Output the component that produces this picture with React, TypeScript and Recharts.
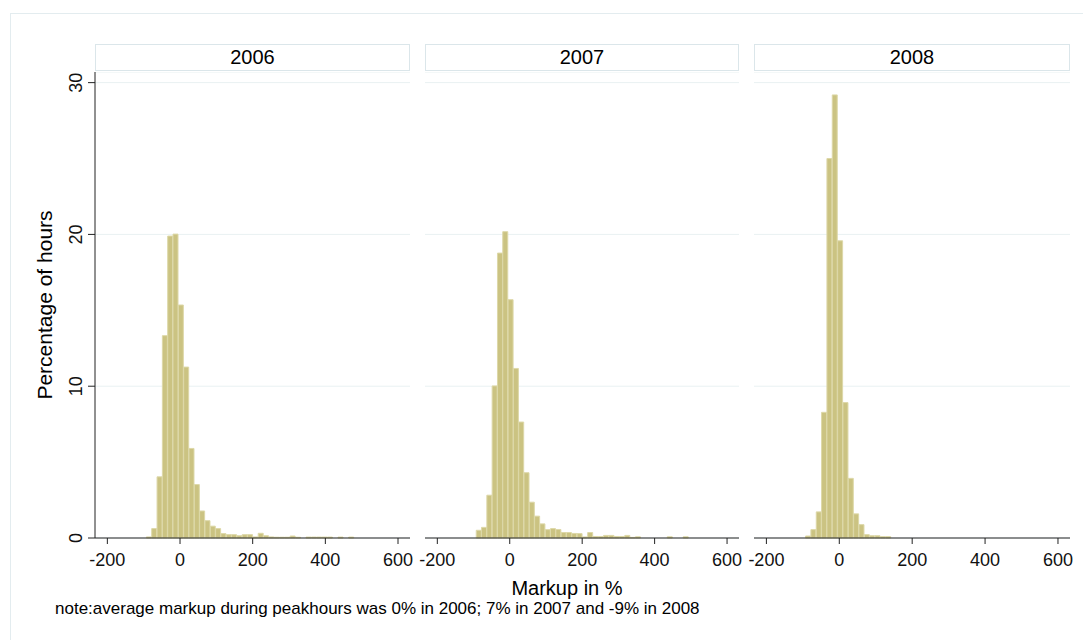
import { ComposedChart, Bar, XAxis, YAxis, CartesianGrid } from 'recharts';

// histogram bin midpoints (markup in %), shared by the three years
const binMid = [
  -85.2, -70.6, -55.9, -41.3, -26.6, -12.0, 2.7, 17.4, 32.0, 46.7,
  61.3, 76.0, 90.6, 105.3, 119.9, 134.6, 149.2, 163.9, 178.5, 193.2,
  207.8, 222.5, 237.1, 251.8, 266.4, 281.1, 295.7, 310.4, 325.0, 339.7,
  354.3, 369.0, 383.6, 398.3, 412.9, 427.6, 442.2, 456.9, 471.5, 486.2,
];

// percentage of hours per bin
const pct2006 = [
  0.07, 0.62, 4.03, 13.33, 19.89, 20.02, 15.35, 11.26, 5.9, 3.52,
  1.78, 1.14, 0.78, 0.62, 0.29, 0.22, 0.22, 0.15, 0.22, 0.22,
  0.07, 0.31, 0.15, 0.07, 0.05, 0.05, 0.05, 0.13, 0.05, 0,
  0.06, 0.06, 0.06, 0.06, 0.06, 0, 0.06, 0, 0.06, 0,
];
const pct2007 = [
  0.51, 0.7, 2.82, 10.02, 18.77, 20.18, 15.7, 11.17, 7.64, 4.3,
  2.36, 1.44, 0.93, 0.55, 0.62, 0.56, 0.36, 0.36, 0.3, 0.29,
  0.07, 0.36, 0.1, 0.1, 0.17, 0.17, 0.1, 0.1, 0.17, 0.04,
  0.08, 0, 0, 0, 0, 0, 0.08, 0, 0, 0.08,
];
const pct2008 = [
  0.13, 0.55, 1.72, 8.28, 25.0, 29.19, 19.58, 8.92, 3.93, 1.59,
  0.88, 0.22, 0.15, 0.15, 0.09, 0.09, 0, 0, 0, 0,
  0, 0, 0, 0, 0, 0, 0, 0, 0, 0,
  0, 0, 0, 0, 0, 0, 0, 0, 0, 0,
];

const xTicks = [-200, 0, 200, 400, 600];
const yTicks = [0, 10, 20, 30];

const data = binMid.map((x, i) => ({
  x,
  y2006: pct2006[i],
  y2007: pct2007[i],
  y2008: pct2008[i],
}));

const FONT = '"Liberation Sans", Arial, sans-serif';
const BAR_FILL = '#cbc382';
const BAR_EDGE = '#ddd8a8';
const GRID = '#e9f1f2';
const AXIS = '#222';

const VerticalTick = (props: any) => {
  const { x, y, payload } = props;
  return (
    <text
      x={x}
      y={y}
      transform={`rotate(-90, ${x}, ${y})`}
      textAnchor="middle"
      fontSize={18}
      fontFamily={FONT}
      fill="#111"
    >
      {payload.value}
    </text>
  );
};

// plot left edge and width for each panel
const panels = [
  { year: '2006', left: 95, width: 315, yAxis: true },
  { year: '2007', left: 425, width: 314, yAxis: false },
  { year: '2008', left: 754, width: 316, yAxis: false },
];

function Panel({ year, left, width, yAxis }: { year: string; left: number; width: number; yAxis: boolean }) {
  const yw = yAxis ? 40 : 0;
  return (
    <>
      <div
        style={{
          position: 'absolute',
          left,
          top: 44,
          width,
          height: 27,
          boxSizing: 'border-box',
          border: '1px solid #dbe6ea',
          background: '#fff',
          display: 'flex',
          alignItems: 'center',
          justifyContent: 'center',
          fontFamily: FONT,
          fontSize: 20,
          color: '#000',
        }}
      >
        {year}
      </div>
      <div style={{ position: 'absolute', left: left - yw - 20, top: 72 }}>
        <ComposedChart
          width={20 + yw + width + 20}
          height={506}
          data={data}
          margin={{ top: 0, right: 20, bottom: 0, left: 20 }}
          barCategoryGap={0}
          barGap={0}
        >
          <CartesianGrid vertical={false} stroke={GRID} strokeWidth={1} />
          <XAxis
            type="number"
            dataKey="x"
            domain={[-234, 633]}
            ticks={xTicks}
            interval={0}
            height={40}
            tickSize={6}
            tickMargin={9}
            stroke={AXIS}
            tick={{ fontSize: 18, fill: '#111', fontFamily: FONT }}
          />
          {yAxis ? (
            <YAxis
              type="number"
              domain={[0, 30.7]}
              ticks={yTicks}
              interval={0}
              width={40}
              tickSize={7}
              tickMargin={6}
              stroke={AXIS}
              tick={<VerticalTick />}
            />
          ) : (
            <YAxis type="number" domain={[0, 30.7]} ticks={yTicks} hide />
          )}
          <Bar
            dataKey={`y${year}`}
            fill={BAR_FILL}
            stroke={BAR_EDGE}
            strokeWidth={1}
            isAnimationActive={false}
          />
        </ComposedChart>
      </div>
    </>
  );
}

export default function App() {
  return (
    <div
      style={{
        position: 'absolute',
        left: 0,
        top: 0,
        width: 1083,
        height: 640,
        overflow: 'hidden',
        background: '#fff',
      }}
    >
      <div
        style={{
          position: 'absolute',
          left: 10,
          top: 13,
          width: 1100,
          height: 700,
          borderTop: '1px solid #e3ecef',
          borderLeft: '1px solid #e3ecef',
        }}
      />
      {panels.map((p) => (
        <Panel key={p.year} {...p} />
      ))}
      <div
        style={{
          position: 'absolute',
          left: 44,
          top: 305,
          transform: 'translate(-50%, -50%) rotate(-90deg)',
          whiteSpace: 'nowrap',
          fontFamily: FONT,
          fontSize: 21,
          lineHeight: 1,
          color: '#000',
        }}
      >
        Percentage of hours
      </div>
      <div
        style={{
          position: 'absolute',
          left: 567,
          top: 578,
          transform: 'translateX(-50%)',
          whiteSpace: 'nowrap',
          fontFamily: FONT,
          fontSize: 20,
          lineHeight: 1,
          color: '#000',
        }}
      >
        Markup in %
      </div>
      <div
        style={{
          position: 'absolute',
          left: 55,
          top: 600,
          whiteSpace: 'nowrap',
          fontFamily: FONT,
          fontSize: 17,
          lineHeight: 1,
          color: '#000',
        }}
      >
        note:average markup during peakhours was 0% in 2006; 7% in 2007 and -9% in 2008
      </div>
    </div>
  );
}
